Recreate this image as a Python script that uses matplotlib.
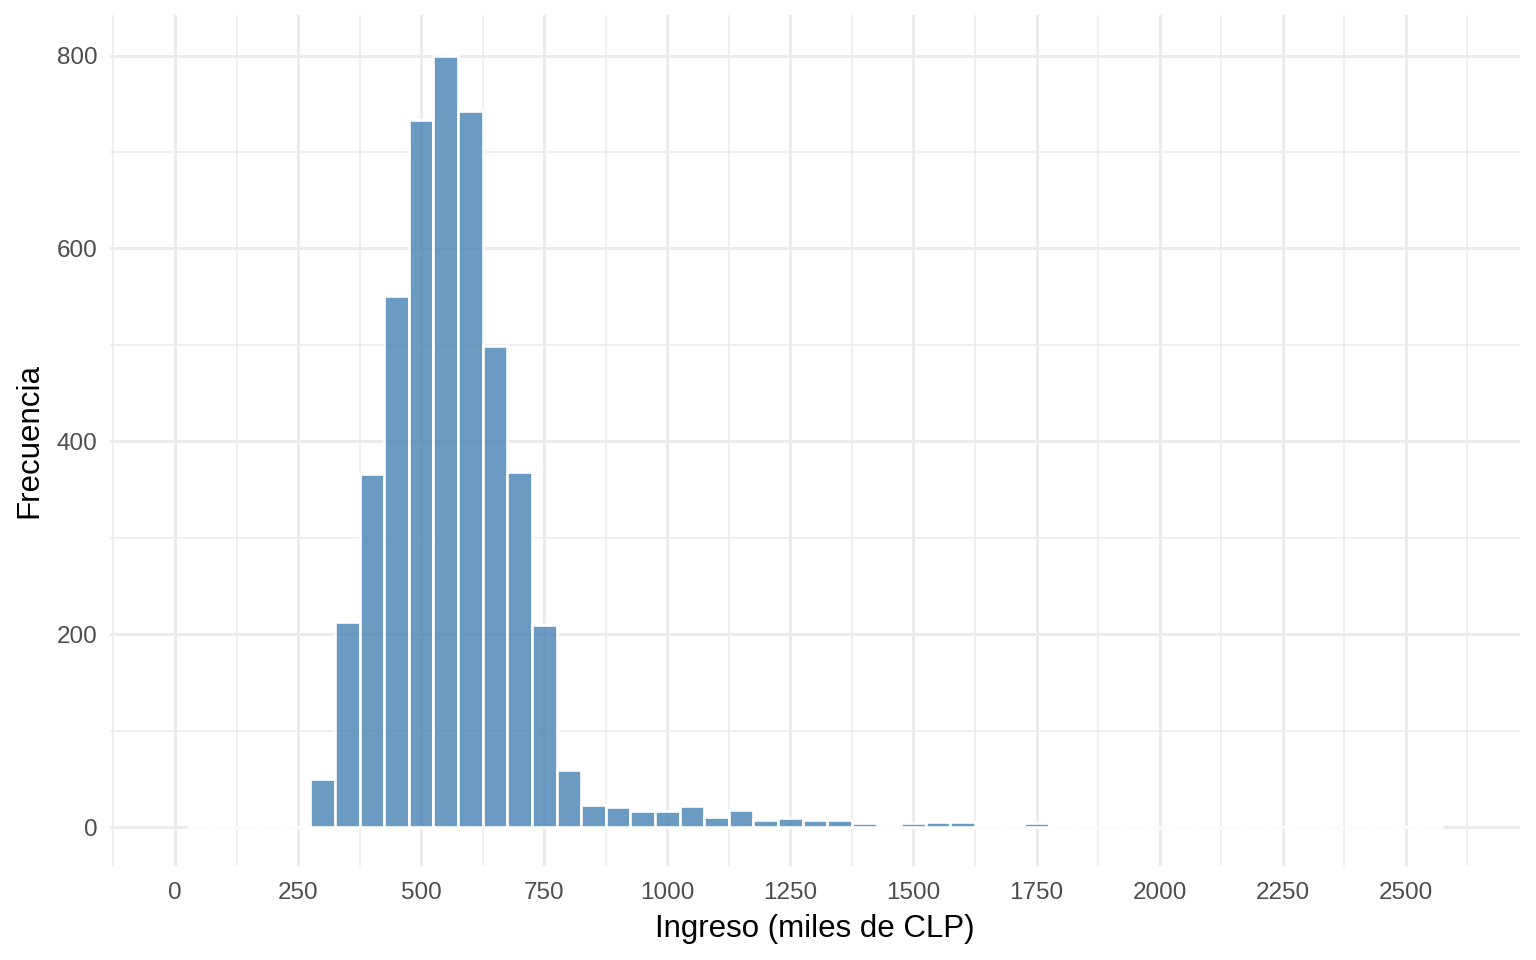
import matplotlib
matplotlib.use("Agg")
import matplotlib.pyplot as plt
from matplotlib.ticker import FixedLocator

plt.rcParams['font.family'] = ['Liberation Sans', 'DejaVu Sans']

# Histograma de ingresos (bins de 50 mil CLP, centrados en múltiplos de 50)
bin_centers = [50, 100, 150, 200, 250, 300, 350, 400, 450, 500,
               550, 600, 650, 700, 750, 800, 850, 900, 950, 1000,
               1050, 1100, 1150, 1200, 1250, 1300, 1350, 1400, 1450, 1500,
               1550, 1600, 1650, 1700, 1750, 1800, 1850, 1900, 1950, 2000,
               2050, 2100, 2150, 2200, 2250, 2300, 2350, 2400, 2450, 2500,
               2550]
counts = [0, 0, 0, 0, 0, 50, 213, 366, 551, 733,
          800, 743, 499, 368, 210, 59, 23, 21, 17, 17,
          22, 11, 18, 8, 10, 8, 8, 5, 3, 5,
          6, 6, 0, 0, 5, 0, 0, 0, 0, 0,
          0, 0, 0, 0, 0, 0, 0, 0, 0, 0,
          0]
binwidth = 50

x_ticks = [0, 250, 500, 750, 1000, 1250, 1500, 1750, 2000, 2250, 2500]
x_minor = [-125, 125, 375, 625, 875, 1125, 1375, 1625, 1875, 2125, 2375, 2625]
y_ticks = [0, 200, 400, 600, 800]
y_minor = [100, 300, 500, 700]

fig = plt.figure(figsize=(15.36, 9.6), dpi=100)
ax = fig.add_axes([110 / 1536, 1 - 866 / 960, 1410 / 1536, 851 / 960])

ax.bar(bin_centers, counts, width=binwidth,
       facecolor=(70 / 255, 130 / 255, 180 / 255, 0.8),
       edgecolor='white', linewidth=1.9, zorder=3)

ax.set_xlim(-132, 2732)
ax.set_ylim(-40, 842)

ax.set_xticks(x_ticks)
ax.set_xticklabels([str(t) for t in x_ticks])
ax.xaxis.set_minor_locator(FixedLocator(x_minor))
ax.set_yticks(y_ticks)
ax.set_yticklabels([str(t) for t in y_ticks])
ax.yaxis.set_minor_locator(FixedLocator(y_minor))

ax.set_axisbelow(True)
ax.grid(which='major', color='#EBEBEB', linewidth=2.2)
ax.grid(which='minor', color='#EBEBEB', linewidth=1.1)

for s in ax.spines.values():
    s.set_visible(False)
ax.tick_params(which='both', length=0)
ax.tick_params(axis='x', labelsize=17.5, labelcolor='#4D4D4D', pad=11.5)
ax.tick_params(axis='y', labelsize=17.5, labelcolor='#4D4D4D', pad=9)

ax.set_xlabel("Ingreso (miles de CLP)", fontsize=22.5, color='black', labelpad=7)
ax.set_ylabel("Frecuencia", fontsize=22.5, color='black', labelpad=9)

fig.savefig("out.png", dpi=100, facecolor='white')
